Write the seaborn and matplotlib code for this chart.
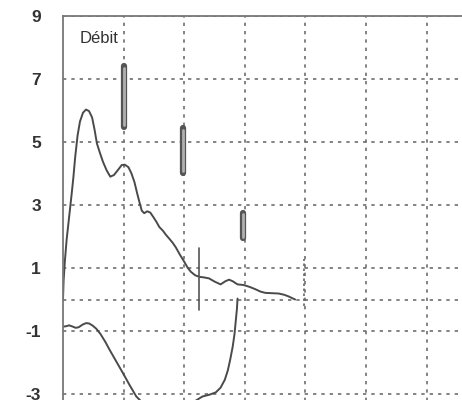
import matplotlib
matplotlib.use('Agg')
import matplotlib.pyplot as plt
import numpy as np
import pandas as pd
import seaborn as sns

# courbe expiratoire (volume, débit)
exp_vol = [0.0, 0.01, 0.03, 0.06, 0.10, 0.14, 0.17, 0.20, 0.24, 0.28, 0.33, 0.38, 0.43,
           0.48, 0.52, 0.56, 0.61, 0.66, 0.72, 0.78, 0.84, 0.91, 0.97, 1.02, 1.08, 1.13,
           1.18, 1.22, 1.26, 1.30, 1.34, 1.39, 1.44, 1.49, 1.54, 1.59, 1.65, 1.70, 1.75,
           1.81, 1.86, 1.93, 2.00, 2.06, 2.11, 2.18, 2.25, 2.33, 2.41, 2.50, 2.60, 2.68,
           2.74, 2.80, 2.88, 2.98, 3.08, 3.17, 3.26, 3.34, 3.45, 3.56, 3.65, 3.72, 3.83]
exp_flow = [0.0, 0.6, 1.2, 1.9, 2.6, 3.3, 3.85, 4.5, 5.2, 5.65, 5.93, 6.03, 5.98,
            5.78, 5.4, 4.95, 4.65, 4.37, 4.1, 3.9, 3.95, 4.12, 4.27, 4.28, 4.2, 4.0,
            3.72, 3.4, 3.1, 2.82, 2.74, 2.8, 2.76, 2.62, 2.47, 2.3, 2.18, 2.05, 1.94,
            1.8, 1.66, 1.42, 1.2, 1.0, 0.88, 0.77, 0.72, 0.70, 0.67, 0.57, 0.48, 0.58,
            0.63, 0.58, 0.48, 0.46, 0.40, 0.33, 0.25, 0.21, 0.20, 0.19, 0.15, 0.10, 0.0]

# courbe inspiratoire
insp_vol = [0.0, 0.05, 0.10, 0.16, 0.21, 0.26, 0.32, 0.38, 0.43, 0.49, 0.55, 0.62, 0.70,
            0.77, 0.88, 0.99, 1.10, 1.21, 1.35, 1.55, 1.80, 2.05, 2.20, 2.30, 2.42, 2.52,
            2.60, 2.67, 2.72, 2.76, 2.80, 2.83, 2.85, 2.87, 2.88]
insp_flow = [-0.86, -0.85, -0.82, -0.86, -0.90, -0.88, -0.80, -0.75, -0.76, -0.83, -0.93,
             -1.10, -1.35, -1.60, -1.97, -2.34, -2.72, -3.08, -3.35, -3.50, -3.52, -3.40,
             -3.20, -3.08, -3.02, -2.95, -2.80, -2.55, -2.25, -1.90, -1.50, -1.10, -0.70,
             -0.30, 0.03]

# repères verticaux (x, y bas, y haut)
bar_x = [1.0, 1.98, 2.97]
bar_lo = [5.48, 4.02, 1.95]
bar_hi = [7.41, 5.44, 2.75]
tick_x = [2.25]
tick_lo = [-0.33]
tick_hi = [1.63]
dot_x = [3.97]
dot_lo = [-0.2]
dot_hi = [1.3]

ytick_vals = [-3, -1, 0, 1, 3, 5, 7, 9]
ytick_labels = ['-3', '-1', '', '1', '3', '5', '7', '9']

sns.set_style('white')
plt.rcParams['font.family'] = ['Liberation Sans', 'DejaVu Sans']

fig = plt.figure(figsize=(4.62, 4.0), dpi=100)
# axes plus grand que la figure : le bas et la droite sont coupés comme sur le scan
x0, px_x = 63, 60.6
top, px_y = 16, 31.5
xmax, ymin, ymax = 7.0, -4.0, 9.0
left = x0 / 462
width = xmax * px_x / 462
height = (ymax - ymin) * px_y / 400
bottom = 1 - top / 400 - height
ax = fig.add_axes([left, bottom, width, height])

df_exp = pd.DataFrame({'vol': exp_vol, 'flow': exp_flow})
df_insp = pd.DataFrame({'vol': insp_vol, 'flow': insp_flow})
sns.lineplot(data=df_exp, x='vol', y='flow', sort=False, color='#4a4a4a', lw=1.4, ax=ax)
sns.lineplot(data=df_insp, x='vol', y='flow', sort=False, color='#4a4a4a', lw=1.4, ax=ax)

for x, lo, hi in zip(bar_x, bar_lo, bar_hi):
    ax.plot([x, x], [lo, hi], color='#555555', lw=4.5, solid_capstyle='round')
    ax.plot([x, x], [lo + 0.05, hi - 0.05], color='#b0b0b0', lw=2.0, solid_capstyle='round')
for x, lo, hi in zip(tick_x, tick_lo, tick_hi):
    ax.plot([x, x], [lo, hi], color='#555555', lw=1.2)
for x, lo, hi in zip(dot_x, dot_lo, dot_hi):
    ax.plot([x, x], [lo, hi], color='#666666', lw=1.2, linestyle=(0, (1.5, 1.5)))

ax.set_xlim(0, xmax)
ax.set_ylim(ymin, ymax)
ax.set_xticks(range(1, 7))
ax.set_xticklabels([])
ax.set_yticks(ytick_vals)
ax.set_yticklabels(ytick_labels, fontsize=12.5, fontweight='bold', color='#333333')
ax.tick_params(axis='both', length=0)
ax.tick_params(axis='y', pad=16)
ax.grid(True, color='#6e6e6e', lw=1.2, linestyle=(0, (2, 3)))
ax.set_xlabel('')
ax.set_ylabel('')

for s in ['left', 'top']:
    ax.spines[s].set_color('#777777')
    ax.spines[s].set_linewidth(1.3)
ax.spines['right'].set_visible(False)
ax.spines['bottom'].set_visible(False)

ax.text(0.27, 8.3, 'Débit', fontsize=12, color='#333333', va='center', ha='left')

fig.savefig('out.png', dpi=100)
